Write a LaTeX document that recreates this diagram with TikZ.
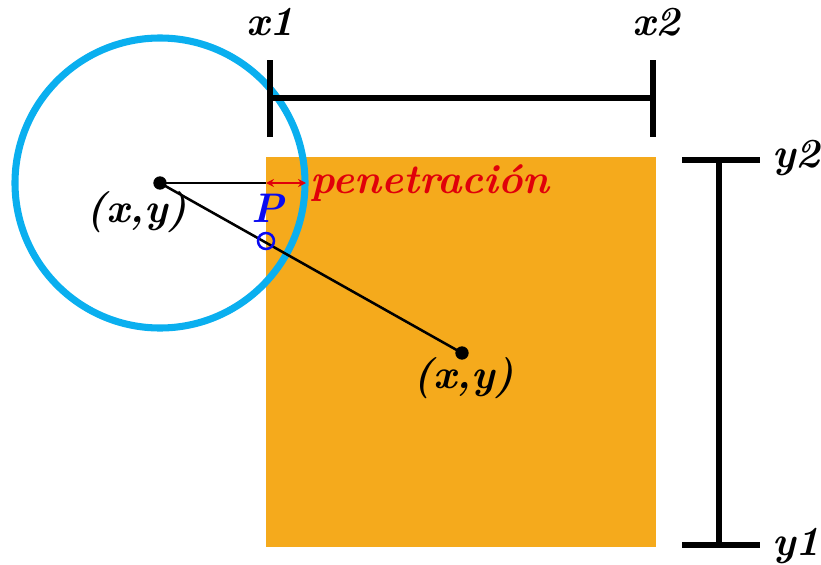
\documentclass[tikz,border=0pt]{standalone}
\usetikzlibrary{arrows.meta}
\definecolor{boxorange}{HTML}{F5AA1C}
\definecolor{ballblue}{HTML}{0AAFEF}
\definecolor{penred}{HTML}{E0000A}
\definecolor{pblue}{HTML}{0A0AF0}
\tikzset{
  lbl/.style={inner sep=0pt, font=\fontsize{31}{33}\selectfont\bfseries\itshape},
  bar/.style={line width=5.2pt},
  thin/.style={line width=1.9pt},
  dot/.style={circle, fill=black, inner sep=0pt, minimum size=10pt},
}
\begin{document}
\begin{tikzpicture}[x=0.75pt,y=-0.75pt]
\useasboundingbox (0,0) rectangle (821,564);
% orange box
\fill[boxorange] (266,157) rectangle (656,547);
% ball
\draw[ballblue, line width=5.3pt] (160,183) circle[radius=145];
% x bar
\coordinate (x1t) at (270,60); \coordinate (x1b) at (270,137);
\coordinate (x2t) at (653,60); \coordinate (x2b) at (653,137);
\coordinate (x1m) at (270,98); \coordinate (x2m) at (653,98);
\draw[bar] (x1t) -- (x1b);
\draw[bar] (x2t) -- (x2b);
\draw[bar] (x1m) -- (x2m);
\node[lbl] (lx1) at (270,22) {x1};
\node[lbl] (lx2) at (656,22) {x2};
% y bar
\coordinate (y2l) at (682,160); \coordinate (y2r) at (760,160);
\coordinate (y1l) at (682,545); \coordinate (y1r) at (760,545);
\coordinate (y2m) at (719,160); \coordinate (y1m) at (719,545);
\draw[bar] (y2l) -- (y2r);
\draw[bar] (y1l) -- (y1r);
\draw[bar] (y2m) -- (y1m);
\node[lbl] (ly2) at (796,158) {y2};
\node[lbl] (ly1) at (796,546) {y1};
% centres
\node[dot] (c1) at (160,183) {};
\node[dot] (c2) at (462,353) {};
\draw[thin] (c1.center) -- (c2.center);
\coordinate (edge) at (266,183);
\coordinate (pen) at (306,183);
\draw[thin] (c1.center) -- (edge);
\draw[penred, line width=1.5pt, {Stealth[length=6pt,width=6pt]}-{Stealth[length=6pt,width=6pt]}] (edge) -- (pen);
\node[lbl, text=penred, anchor=west] (lpen) at (310,183) {penetración};
\node[lbl] (lc1) at (137,212) {(x,y)};
\node[lbl] (lc2) at (464,378) {(x,y)};
% P
\node[circle, draw=pblue, line width=1.9pt, inner sep=0pt, minimum size=12pt] (p) at (266,241) {};
\node[lbl, text=pblue] (lp) at (268,208) {P};
\end{tikzpicture}
\end{document}
